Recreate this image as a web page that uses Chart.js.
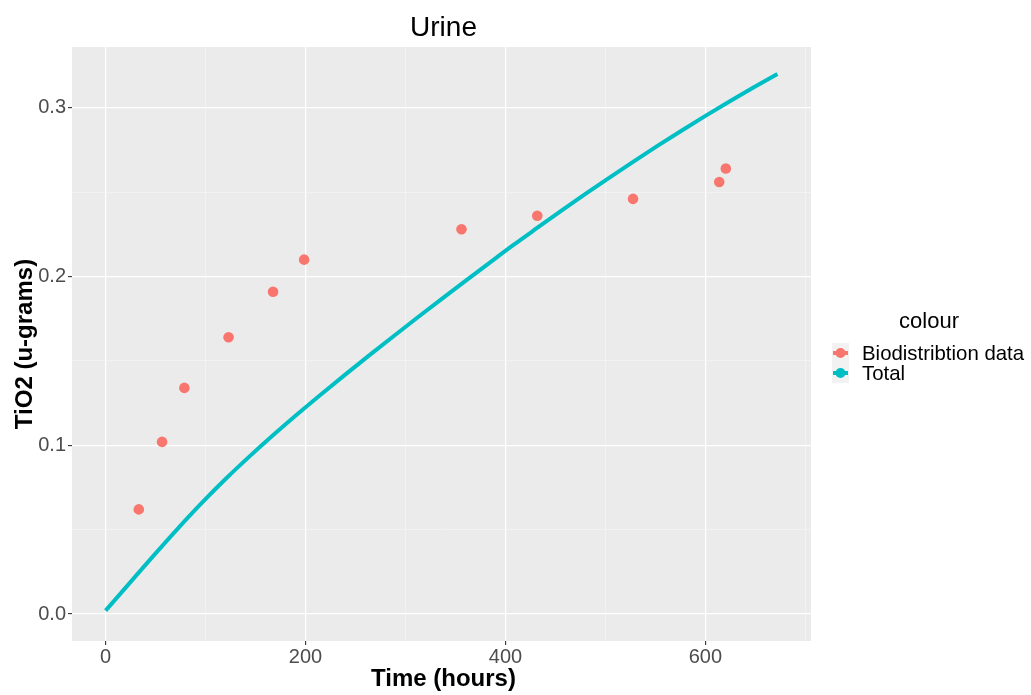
<!DOCTYPE html>
<html>
<head>
<meta charset="utf-8">
<title>Urine</title>
<script src="https://cdn.jsdelivr.net/npm/chart.js@4.4.1/dist/chart.umd.min.js"></script>
<style>
  html, body { margin: 0; padding: 0; background: #ffffff; }
  #wrap { width: 1031px; height: 695px; }
</style>
</head>
<body>
<div id="wrap"><canvas id="chart" width="1031" height="695"></canvas></div>
<script>
// Measured urinary TiO2 (biodistribution data)
const hoursObserved = [33.2, 56.5, 78.8, 123.0, 167.5, 198.6, 356.0, 431.8, 527.6, 613.8, 620.4];
const tio2Observed  = [0.062, 0.102, 0.134, 0.164, 0.191, 0.210, 0.228, 0.236, 0.246, 0.256, 0.264];

// Model prediction (Total)
const hoursModel = [0, 24, 48, 72, 96, 120, 144, 168, 192, 216, 240, 264, 288, 312, 336,
                    360, 384, 408, 432, 456, 480, 504, 528, 552, 576, 600, 624, 648, 672];
const tio2Model  = [0.002, 0.0183, 0.0346, 0.0505, 0.0657, 0.0800, 0.0934, 0.1062, 0.1185,
                    0.1304, 0.1420, 0.1534, 0.1646, 0.1757, 0.1866, 0.1974, 0.2081, 0.2187,
                    0.2289, 0.2390, 0.2489, 0.2586, 0.2681, 0.2774, 0.2864, 0.2952, 0.3037,
                    0.3120, 0.3200];

// Axis ticks: labelled (major) and grid-only (minor)
const xMajorTicks = [0, 200, 400, 600];
const xGridTicks  = [0, 100, 200, 300, 400, 500, 600, 700];
const yMajorTicks = [0.0, 0.1, 0.2, 0.3];
const yGridTicks  = [0.0, 0.05, 0.1, 0.15, 0.2, 0.25, 0.3];

const seriesNames = ['Biodistribtion data', 'Total'];
const chartTitle = 'Urine';
const xTitle = 'Time (hours)';
const yTitle = 'TiO2 (u-grams)';
const legendTitle = 'colour';

const FONT = "'Liberation Sans', Arial, Helvetica, sans-serif";
const RED = '#F8766D';
const CYAN = '#00BFC4';

const isMajor = (list, v) => list.some(m => Math.abs(m - v) < 1e-9);

// ggplot-like panel, titles and legend
const decorations = {
  id: 'decorations',
  beforeDraw(chart) {
    const { ctx, chartArea: a } = chart;
    ctx.save();
    ctx.fillStyle = '#EBEBEB';
    ctx.fillRect(a.left, a.top, a.right - a.left, a.bottom - a.top);
    ctx.restore();
  },
  afterDraw(chart) {
    const { ctx, chartArea: a } = chart;
    const cx = (a.left + a.right) / 2;
    const cy = (a.top + a.bottom) / 2;
    ctx.save();
    ctx.fillStyle = '#000000';
    ctx.textAlign = 'center';
    ctx.textBaseline = 'alphabetic';

    // chart title
    ctx.font = `28px ${FONT}`;
    ctx.fillText(chartTitle, cx + 2, 36);

    // x axis title
    ctx.font = `bold 24px ${FONT}`;
    ctx.fillText(xTitle, cx + 2, 686);

    // y axis title
    ctx.save();
    ctx.translate(32, cy);
    ctx.rotate(-Math.PI / 2);
    ctx.fillText(yTitle, 0, 0);
    ctx.restore();

    // legend
    ctx.font = `22px ${FONT}`;
    ctx.fillText(legendTitle, 929, 328);

    const colors = [RED, CYAN];
    const rows = [353, 373];
    ctx.textAlign = 'left';
    ctx.textBaseline = 'middle';
    ctx.font = `20.4px ${FONT}`;
    rows.forEach((y, i) => {
      ctx.fillStyle = '#F2F2F2';
      ctx.fillRect(832, y - 10, 17, 20);
      ctx.strokeStyle = colors[i];
      ctx.lineWidth = 4;
      ctx.beginPath();
      ctx.moveTo(833, y);
      ctx.lineTo(848, y);
      ctx.stroke();
      ctx.fillStyle = colors[i];
      ctx.beginPath();
      ctx.arc(840.5, y, 5, 0, Math.PI * 2);
      ctx.fill();
      ctx.fillStyle = '#000000';
      ctx.fillText(seriesNames[i], 862, y + 1);
    });
    ctx.restore();
  }
};

const observedPoints = hoursObserved.map((t, i) => ({ x: t, y: tio2Observed[i] }));
const modelPoints = hoursModel.map((t, i) => ({ x: t, y: tio2Model[i] }));

new Chart(document.getElementById('chart'), {
  type: 'scatter',
  data: {
    datasets: [
      {
        label: seriesNames[1],
        data: modelPoints,
        showLine: true,
        borderColor: CYAN,
        borderWidth: 4,
        pointRadius: 0,
        pointHoverRadius: 0,
        cubicInterpolationMode: 'monotone',
        borderCapStyle: 'butt',
        order: 2
      },
      {
        label: seriesNames[0],
        data: observedPoints,
        showLine: false,
        backgroundColor: RED,
        borderColor: RED,
        borderWidth: 0,
        pointRadius: 5.3,
        pointHoverRadius: 5.3,
        order: 1
      }
    ]
  },
  options: {
    responsive: false,
    animation: false,
    devicePixelRatio: 1,
    layout: { padding: { top: 47, right: 220, left: 0, bottom: 0 } },
    plugins: {
      legend: { display: false },
      title: { display: false },
      tooltip: { enabled: false }
    },
    scales: {
      x: {
        type: 'linear',
        min: -33.6,
        max: 705.6,
        afterBuildTicks(scale) { scale.ticks = xGridTicks.map(v => ({ value: v })); },
        afterFit(scale) { scale.height = 54; },
        border: { display: false },
        grid: {
          color: c => isMajor(xMajorTicks, c.tick.value) ? '#FFFFFF' : '#F7F7F7',
          lineWidth: c => isMajor(xMajorTicks, c.tick.value) ? 1.2 : 0.6,
          tickColor: c => isMajor(xMajorTicks, c.tick.value) ? '#333333' : 'rgba(0,0,0,0)',
          tickWidth: 1.1,
          tickLength: 4,
          drawTicks: true
        },
        ticks: {
          autoSkip: false,
          maxRotation: 0,
          padding: 0,
          color: '#4D4D4D',
          font: { family: FONT, size: 20 },
          callback: v => isMajor(xMajorTicks, v) ? String(v) : ''
        }
      },
      y: {
        type: 'linear',
        min: -0.016,
        max: 0.336,
        afterBuildTicks(scale) { scale.ticks = yGridTicks.map(v => ({ value: v })); },
        afterFit(scale) { scale.width = 72; },
        border: { display: false },
        grid: {
          color: c => isMajor(yMajorTicks, c.tick.value) ? '#FFFFFF' : '#F7F7F7',
          lineWidth: c => isMajor(yMajorTicks, c.tick.value) ? 1.2 : 0.6,
          tickColor: c => isMajor(yMajorTicks, c.tick.value) ? '#333333' : 'rgba(0,0,0,0)',
          tickWidth: 1.1,
          tickLength: 4,
          drawTicks: true
        },
        ticks: {
          autoSkip: false,
          padding: 2,
          color: '#4D4D4D',
          font: { family: FONT, size: 20 },
          callback: v => isMajor(yMajorTicks, v) ? v.toFixed(1) : ''
        }
      }
    }
  },
  plugins: [decorations]
});
</script>
</body>
</html>
